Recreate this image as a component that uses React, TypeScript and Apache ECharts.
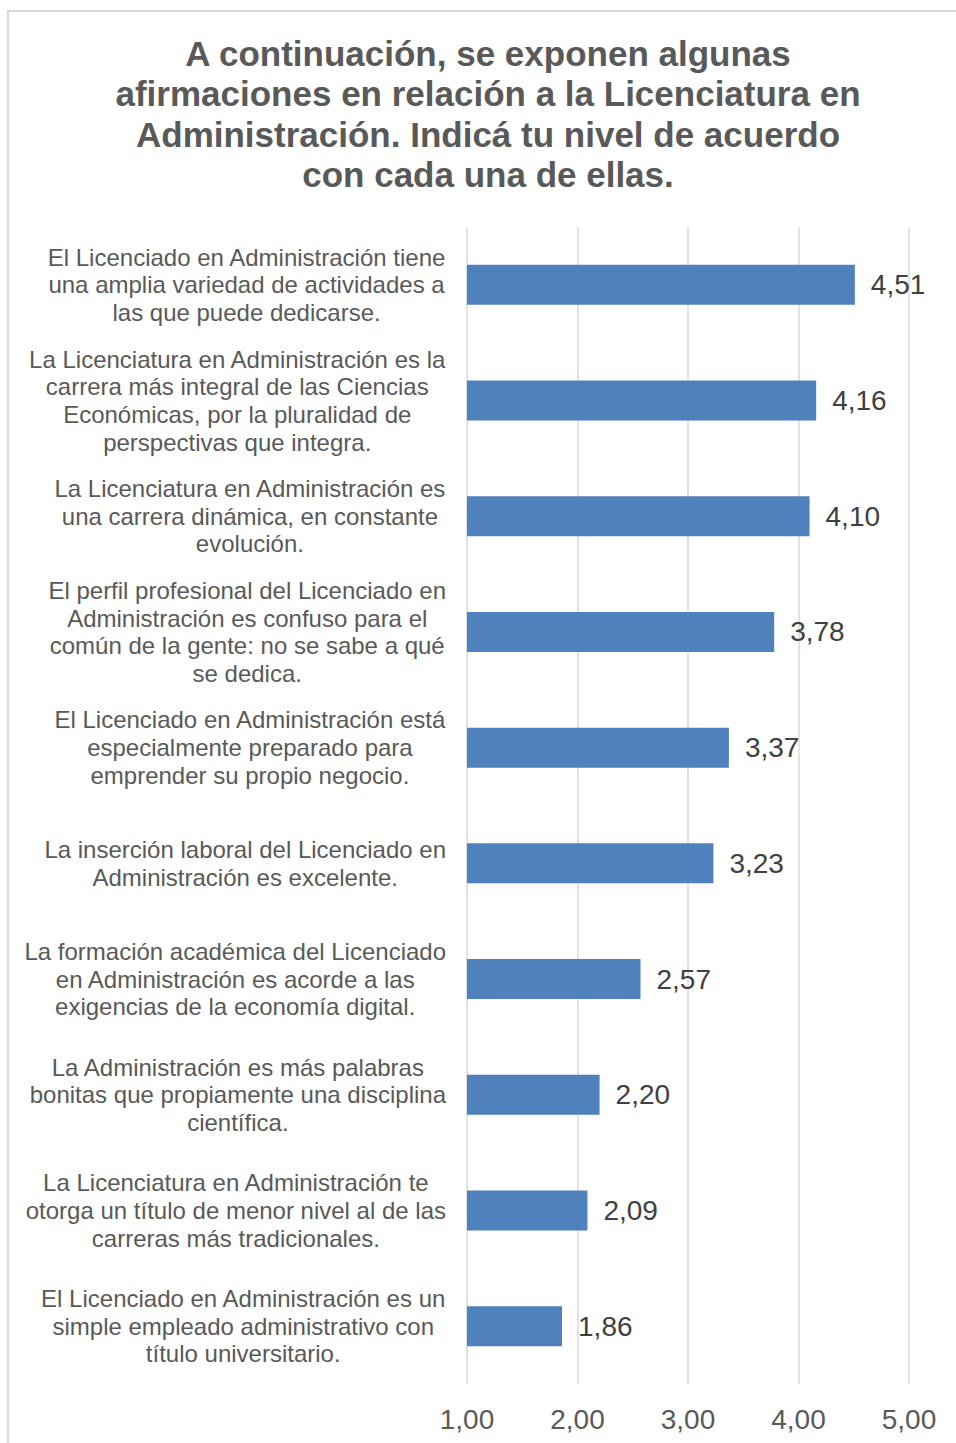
import React, { useEffect, useRef } from "react";
import * as echarts from "echarts";

const titleLines = [
  "A continuación, se exponen algunas",
  "afirmaciones en relación a la Licenciatura en",
  "Administración. Indicá tu nivel de acuerdo",
  "con cada una de ellas.",
];

const categories = [
  "El Licenciado en Administración tiene\nuna amplia variedad de actividades a\nlas que puede dedicarse.",
  "La Licenciatura en Administración es la\ncarrera más integral de las Ciencias\nEconómicas, por la pluralidad de\nperspectivas que integra.",
  "La Licenciatura en Administración es\nuna carrera dinámica, en constante\nevolución.",
  "El perfil profesional del Licenciado en\nAdministración es confuso para el\ncomún de la gente: no se sabe a qué\nse dedica.",
  "El Licenciado en Administración está\nespecialmente preparado para\nemprender su propio negocio.",
  "La inserción laboral del Licenciado en\nAdministración es excelente.",
  "La formación académica del Licenciado\nen Administración es acorde a las\nexigencias de la economía digital.",
  "La Administración es más palabras\nbonitas que propiamente una disciplina\ncientífica.",
  "La Licenciatura en Administración te\notorga un título de menor nivel al de las\ncarreras más tradicionales.",
  "El Licenciado en Administración es un\nsimple empleado administrativo con\ntítulo universitario.",
];

const values = [4.51, 4.16, 4.1, 3.78, 3.37, 3.23, 2.57, 2.2, 2.09, 1.86];

const axisMin = 1;
const axisMax = 5;
const axisStep = 1;

const FONT = "'Liberation Sans', Arial, Helvetica, sans-serif";
const fmt = (v: number) => v.toFixed(2).replace(".", ",");

export default function App() {
  const ref = useRef<HTMLDivElement>(null);
  useEffect(() => {
    if (!ref.current) return;
    const chart = echarts.init(ref.current, undefined, { renderer: "svg" });
    chart.setOption({
      animation: false,
      backgroundColor: "#ffffff",
      title: {
        text: titleLines.join("\n"),
        left: 488,
        top: 33,
        padding: 0,
        textAlign: "center",
        textStyle: {
          fontFamily: FONT,
          fontSize: 35,
          fontWeight: "bold",
          color: "#595959",
          lineHeight: 40.5,
        },
      },
      graphic: [
        {
          type: "line",
          shape: { x1: 8, y1: 11, x2: 956, y2: 11 },
          style: { stroke: "#d9d9d9", lineWidth: 2 },
          silent: true,
        },
        {
          type: "line",
          shape: { x1: 8, y1: 10, x2: 8, y2: 1443 },
          style: { stroke: "#d9d9d9", lineWidth: 2 },
          silent: true,
        },
      ],
      grid: { left: 467, right: 47, top: 227, bottom: 59, containLabel: false },
      xAxis: {
        type: "value",
        min: axisMin,
        max: axisMax,
        interval: axisStep,
        axisLine: { show: false },
        axisTick: { show: false },
        splitLine: { show: true, lineStyle: { color: "#d9d9d9", width: 1.5 } },
        axisLabel: {
          formatter: (v: number) => fmt(v),
          fontFamily: FONT,
          fontSize: 28,
          color: "#595959",
          margin: 21,
        },
      },
      yAxis: {
        type: "category",
        inverse: true,
        data: categories,
        axisLine: { show: false },
        axisTick: { show: false },
        splitLine: { show: false },
        axisLabel: {
          interval: 0,
          margin: 21,
          align: "right",
          formatter: (v: string) =>
            v
              .split("\n")
              .map((l) => "{c|" + l + "}")
              .join("\n"),
          rich: {
            c: {
              align: "center",
              fontFamily: FONT,
              fontSize: 24,
              color: "#595959",
              lineHeight: 27.7,
            },
          },
        },
      },
      series: [
        {
          type: "bar",
          data: values,
          barWidth: 40,
          itemStyle: { color: "#4F81BD" },
          label: {
            show: true,
            position: "right",
            distance: 16,
            formatter: (p: any) => fmt(p.value),
            fontFamily: FONT,
            fontSize: 28,
            color: "#404040",
          },
        },
      ],
    });
    return () => chart.dispose();
  }, []);
  return (
    <div
      ref={ref}
      style={{ position: "absolute", left: 0, top: 0, width: 956, height: 1443 }}
    />
  );
}
